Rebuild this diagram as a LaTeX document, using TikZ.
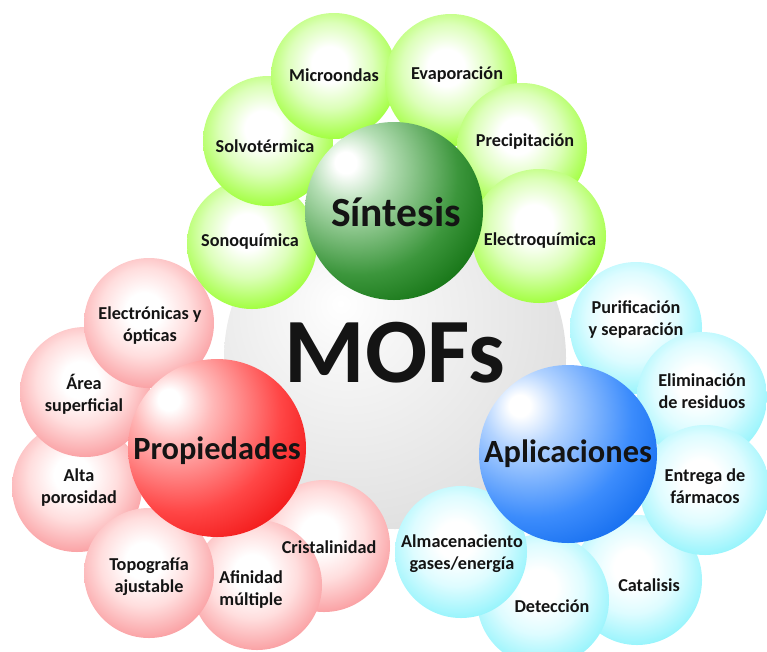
\documentclass[tikz,border=0pt]{standalone}
\usepackage{fontspec}
\setmainfont{Carlito}

% sphere colours: light / mid / rim for each family
\definecolor{gsatL}{RGB}{220,255,185}
\definecolor{gsatM}{RGB}{160,255,60}
\definecolor{gsatR}{RGB}{118,244,0}
\definecolor{ghubL}{RGB}{180,222,180}
\definecolor{ghubM}{RGB}{60,150,60}
\definecolor{ghubR}{RGB}{0,98,0}
\definecolor{rsatL}{RGB}{255,222,222}
\definecolor{rsatM}{RGB}{250,160,163}
\definecolor{rsatR}{RGB}{238,102,108}
\definecolor{rhubL}{RGB}{255,185,185}
\definecolor{rhubM}{RGB}{255,70,70}
\definecolor{rhubR}{RGB}{235,0,0}
\definecolor{bsatL}{RGB}{222,252,255}
\definecolor{bsatM}{RGB}{150,244,252}
\definecolor{bsatR}{RGB}{75,230,246}
\definecolor{bhubL}{RGB}{180,212,255}
\definecolor{bhubM}{RGB}{60,140,252}
\definecolor{bhubR}{RGB}{0,94,232}
\definecolor{greyL}{RGB}{246,246,246}
\definecolor{greyM}{RGB}{220,220,220}
\definecolor{greyR}{RGB}{185,185,185}

% small spheres: soft highlight just above the middle, vivid rim
\newcommand\satshading[1]{%
  \pgfdeclareradialshading{#1body}{\pgfpoint{-2bp}{5bp}}{%
    color(0bp)=(white); color(7bp)=(white); color(17bp)=(#1L);
    color(29bp)=(#1M); color(42bp)=(#1R); color(100bp)=(#1R)}}
% large spheres: highlight towards the upper left
\newcommand\hubshading[1]{%
  \pgfdeclareradialshading{#1body}{\pgfpoint{-14bp}{14bp}}{%
    color(0bp)=(white); color(3bp)=(white); color(11bp)=(#1L);
    color(28bp)=(#1M); color(44bp)=(#1R); color(100bp)=(#1R)}}
\satshading{gsat}\hubshading{ghub}
\satshading{rsat}\hubshading{rhub}
\satshading{bsat}\hubshading{bhub}
\pgfdeclareradialshading{greybody}{\pgfpoint{-8bp}{8bp}}{%
  color(0bp)=(white); color(8bp)=(greyL); color(36bp)=(greyM);
  color(54bp)=(greyR); color(100bp)=(greyR)}

\tikzset{
  ball/.style 2 args={circle, inner sep=0pt, minimum size=#2, shading=#1body},
  gsat/.style={ball={gsat}{#1}}, gsat/.default=130pt,
  rsat/.style={ball={rsat}{#1}}, rsat/.default=130pt,
  bsat/.style={ball={bsat}{#1}}, bsat/.default=130pt,
  sattext/.style={font=\fontsize{18.2}{22}\selectfont\bfseries, align=center, text=black!92},
  hubtext/.style={font=\fontsize{32.4}{36}\selectfont\bfseries, text=black!92},
}

\begin{document}
\begin{tikzpicture}[x=1pt,y=-1pt]
\useasboundingbox (0,0) rectangle (767,651);

% central sphere
\node[ball={grey}{342pt}] (mofs) at (395,358) {};

% synthesis satellites
\node[gsat] (sono)   at (252,244) {};
\node[gsat] (solvo)  at (268,141) {};
\node[gsat=126pt] (micro) at (334,76) {};
\node[gsat=132pt] (evap)  at (451,80) {};
\node[gsat] (precip) at (522,148) {};
\node[gsat=134pt] (electroq) at (539,236) {};

% property satellites
\node[rsat=132pt] (crist) at (324,546) {};
\node[rsat] (afin)   at (257,585) {};
\node[rsat] (alta)   at (77,487) {};
\node[rsat] (topo)   at (149,573) {};
\node[rsat] (area)   at (85,392) {};
\node[rsat] (electr) at (149,323) {};

% application satellites
\node[bsat=132pt] (purif) at (636,328) {};
\node[bsat] (elim)    at (702,397) {};
\node[bsat] (catal)   at (637,580) {};
\node[bsat] (entrega) at (705,490) {};
\node[bsat=132pt] (detec) at (543,600) {};
\node[bsat=132pt] (almac) at (461,552) {};

% hubs
\node[ball={ghub}{178pt}] (sint) at (394,211) {};
\node[ball={rhub}{178pt}] (prop) at (217,448) {};
\node[ball={bhub}{178pt}] (apli) at (568,454) {};

% labels
\node[font=\fontsize{92}{94}\selectfont\bfseries, text=black!92] (tmofs) at (395,353) {MOFs};
\node[hubtext, font=\fontsize{41.5}{44}\selectfont\bfseries] (tsint) at (396,212) {Síntesis};
\node[hubtext] (tprop) at (217,451) {Propiedades};
\node[hubtext] (tapli) at (568,454) {Aplicaciones};

\node[sattext] (tmicro)    at (334,75)  {Microondas};
\node[sattext] (tevap)     at (457,75)  {Evaporación};
\node[sattext] (tsolvo)    at (265,146) {Solvotérmica};
\node[sattext] (tprecip)   at (525,142) {Precipitación};
\node[sattext] (tsono)     at (250,242) {Sonoquímica};
\node[sattext] (telectroq) at (540,241) {Electroquímica};

\node[sattext] (telectr) at (150,326) {Electrónicas y\\ópticas};
\node[sattext] (tarea)   at (84,394)  {Área\\superficial};
\node[sattext] (talta)   at (79,488)  {Alta\\porosidad};
\node[sattext] (ttopo)   at (149,577) {Topografía\\ajustable};
\node[sattext] (tafin)   at (251,590) {Afinidad\\múltiple};
\node[sattext] (tcrist)  at (329,547) {Cristalinidad};

\node[sattext] (tpurif)   at (636,320) {Purificación\\y separación};
\node[sattext] (telim)    at (702,391) {Eliminación\\de residuos};
\node[sattext] (tentrega) at (705,486) {Entrega de\\fármacos};
\node[sattext] (talmac)   at (462,554) {Almacenaciento\\gases/energía};
\node[sattext] (tdetec)   at (552,606) {Detección};
\node[sattext] (tcatal)   at (649,585) {Catalisis};
\end{tikzpicture}
\end{document}
